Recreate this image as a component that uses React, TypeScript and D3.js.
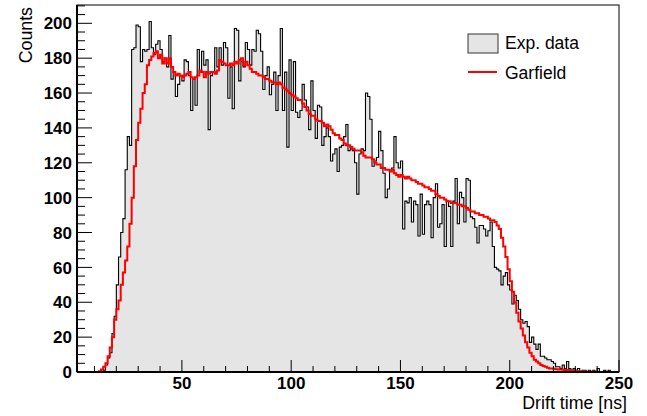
import React from "react";
import * as d3 from "d3";

// Histogram: bins of 1 ns starting at 2 ns
const binStart = 2;
const binWidth = 1;

// Experimental data counts, t = 2 .. 249 ns
const expCounts = [
  0, 0, 0, 0, 0, 0, 0, 0,
  0, 0, 0, 0, 1, 4, 8, 11, 22, 32,
  50, 66, 80, 88, 116, 135, 130, 185, 186, 199,
  198, 178, 185, 184, 185, 201, 186, 182, 188, 190,
  185, 178, 180, 175, 193, 168, 172, 158, 165, 170,
  167, 179, 178, 170, 150, 168, 153, 185, 172, 184,
  176, 179, 139, 170, 172, 186, 175, 186, 176, 189,
  186, 157, 175, 151, 197, 196, 167, 178, 175, 189,
  185, 176, 185, 184, 196, 194, 184, 162, 170, 175,
  159, 165, 172, 150, 170, 197, 150, 172, 129, 179,
  150, 178, 149, 146, 150, 165, 156, 152, 139, 167,
  150, 134, 153, 152, 130, 135, 140, 135, 121, 125,
  128, 115, 129, 130, 135, 142, 127, 128, 127, 120,
  102, 125, 128, 127, 160, 158, 145, 118, 121, 123,
  138, 127, 114, 100, 105, 115, 117, 135, 120, 117,
  121, 82, 98, 97, 100, 86, 98, 96, 78, 102,
  79, 96, 98, 96, 77, 100, 108, 83, 85, 96,
  72, 98, 95, 72, 98, 111, 85, 103, 100, 86,
  111, 110, 89, 88, 83, 74, 84, 84, 82, 78,
  81, 86, 72, 60, 59, 58, 50, 55, 57, 50,
  47, 39, 44, 41, 36, 30, 28, 29, 26, 17,
  20, 16, 13, 16, 9, 9, 8, 7, 7, 6,
  5, 3, 3, 2, 4, 2, 6, 2, 1, 2,
  1, 2, 0, 1, 1, 0, 1, 0, 1, 0,
  2, 0, 0, 1, 0, 1, 0, 0, 0, 0,
];

// Garfield simulation, t = 2 .. 249 ns
const garfield = [
  0, 0, 0, 0, 0, 0, 0, 0,
  0, 0, 0.5, 1.5, 3, 5, 9, 14, 20, 30,
  36, 41, 50, 57, 64, 72, 85, 100, 118, 133,
  143, 151, 160, 165, 176, 179, 181, 183, 184, 180,
  182, 177, 180, 177, 180, 175, 172, 170, 171, 170,
  169, 170, 171, 172, 169, 168, 169, 170, 173, 172,
  169, 172, 171, 172, 172, 171, 173, 179, 178, 177,
  176, 176, 177, 176, 178, 177, 179, 180, 176, 178,
  176, 174, 172, 172, 171, 170, 170, 169, 168, 168,
  167, 166, 166, 165, 166, 165, 163, 162, 161, 160,
  159, 158, 157, 156, 156, 154, 152, 150, 148, 147,
  147, 145, 144, 144, 143, 141, 142, 141, 139, 137,
  136, 136, 134, 133, 131, 130, 130, 129, 128, 127,
  127, 127, 126, 124, 123, 123, 123, 122, 120, 119,
  119, 117, 117, 116, 116, 115, 116, 114, 113, 112,
  113, 112, 111, 112, 111, 110, 110, 109, 108, 108,
  107, 106, 106, 105, 104, 104, 102, 101, 100, 100,
  99, 98, 98, 97, 97, 97, 96, 96, 95, 95,
  94, 93, 92, 92, 91, 91, 90, 90, 89, 89,
  88, 87, 87, 86, 84, 82, 77, 72, 66, 59,
  52, 46, 40, 34, 29, 25, 21, 17, 14, 11,
  9, 7, 6, 5, 4, 3.5, 3, 2.5, 2, 2,
  1.8, 1.6, 1.5, 1.4, 1.3, 1.2, 1.1, 1, 0.9, 0.8,
  0.6, 0.5, 0.4, 0.3, 0.3, 0.2, 0.1, 0.1, 0.1, 0.1,
  0, 0, 0, 0, 0, 0, 0, 0, 0, 0,
];

const xTickValues = d3.range(10, 251, 10);
const xMajorLabels = [50, 100, 150, 200, 250];
const yTickValues = d3.range(0, 211, 5);
const yMajorLabels = [0, 20, 40, 60, 80, 100, 120, 140, 160, 180, 200];

const legendItems = ["Exp. data", "Garfield"];
const xTitle = "Drift time [ns]";
const yTitle = "Counts";

const W = 647;
const H = 416;
const left = 77;
const right = 619;
const top = 5;
const bottom = 372;

const font = "'Liberation Sans', Arial, Helvetica, sans-serif";

function toSteps(vals: number[]): [number, number][] {
  const pts: [number, number][] = vals.map((v, i) => [binStart + i * binWidth, v]);
  pts.push([binStart + vals.length * binWidth, vals[vals.length - 1]]);
  return pts;
}

export default function App() {
  const x = d3.scaleLinear().domain([2, 250]).range([left, right]);
  const y = d3.scaleLinear().domain([0, 210.5]).range([bottom, top]);

  const expPts = toSteps(expCounts);
  const garPts = toSteps(garfield);

  const area = d3
    .area<[number, number]>()
    .x((d) => x(d[0]))
    .y0(y(0))
    .y1((d) => y(d[1]))
    .curve(d3.curveStepAfter);
  const line = d3
    .line<[number, number]>()
    .x((d) => x(d[0]))
    .y((d) => y(d[1]))
    .curve(d3.curveStepAfter);

  return (
    <svg
      width={W}
      height={H}
      style={{ position: "absolute", left: 0, top: 0, background: "#fff" }}
    >
      <rect x={0} y={0} width={W} height={H} fill="#fff" />
      <path d={area(expPts) || ""} fill="#e5e5e5" stroke="none" />
      <path d={line(expPts) || ""} fill="none" stroke="#000" strokeWidth={1.1} />
      <path d={line(garPts) || ""} fill="none" stroke="#ff0000" strokeWidth={2} />

      {/* frame */}
      <rect
        x={left}
        y={top}
        width={right - left}
        height={bottom - top}
        fill="none"
        stroke="#000"
        strokeWidth={1}
      />
      {/* axes */}
      <line x1={left} x2={right} y1={bottom} y2={bottom} stroke="#000" strokeWidth={2} />
      <line x1={left} x2={left} y1={top} y2={bottom} stroke="#000" strokeWidth={2} />

      {/* y ticks */}
      {yTickValues.map((v) => {
        const major = v % 20 === 0;
        return (
          <line
            key={"yt" + v}
            x1={left}
            x2={left + (major ? 15 : 8)}
            y1={y(v)}
            y2={y(v)}
            stroke="#000"
            strokeWidth={1}
          />
        );
      })}
      {yMajorLabels.map((v) => (
        <text
          key={"yl" + v}
          x={left - 5}
          y={y(v)}
          dy="0.36em"
          textAnchor="end"
          fontFamily={font}
          fontWeight="bold"
          fontSize={17}
          fill="#000"
        >
          {v}
        </text>
      ))}

      {/* x ticks */}
      {xTickValues.map((v) => {
        const major = v % 50 === 0;
        return (
          <line
            key={"xt" + v}
            x1={x(v)}
            x2={x(v)}
            y1={bottom}
            y2={bottom - (major ? 12 : 6)}
            stroke="#000"
            strokeWidth={1}
          />
        );
      })}
      {xMajorLabels.map((v) => (
        <text
          key={"xl" + v}
          x={x(v)}
          y={388.5}
          textAnchor="middle"
          fontFamily={font}
          fontWeight="bold"
          fontSize={17}
          fill="#000"
        >
          {v}
        </text>
      ))}

      {/* titles */}
      <text
        x={627}
        y={409}
        textAnchor="end"
        fontFamily={font}
        fontSize={17.8}
        fill="#000"
      >
        {xTitle}
      </text>
      <text
        transform="translate(31.5,7) rotate(-90)"
        textAnchor="end"
        fontFamily={font}
        fontSize={17.8}
        fill="#000"
      >
        {yTitle}
      </text>

      {/* legend */}
      <rect x={468} y={34} width={30} height={19} fill="#e5e5e5" stroke="#333" strokeWidth={1} />
      <text x={505} y={48.5} fontFamily={font} fontSize={17.5} fill="#000">
        {legendItems[0]}
      </text>
      <line x1={468} x2={497} y1={72} y2={72} stroke="#ff0000" strokeWidth={2} />
      <text x={505} y={78.5} fontFamily={font} fontSize={17.5} fill="#000">
        {legendItems[1]}
      </text>
    </svg>
  );
}
